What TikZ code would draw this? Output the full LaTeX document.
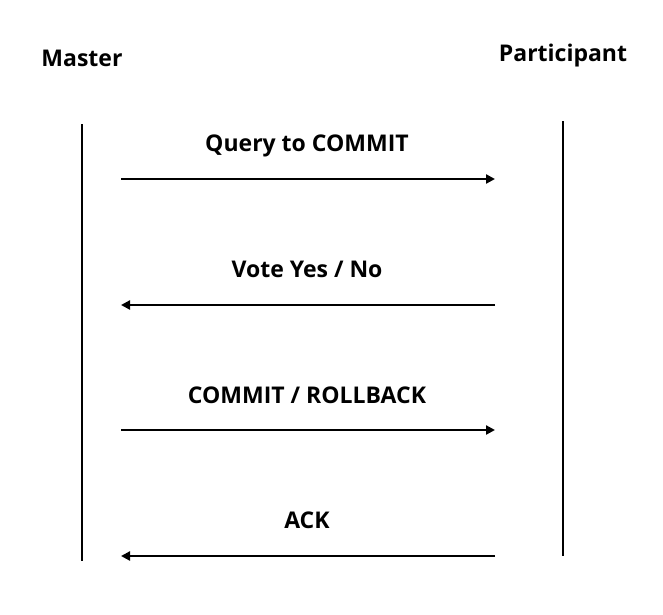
\documentclass[tikz,border=0pt]{standalone}
\usepackage{fontspec}
\setmainfont{Open Sans}
\usetikzlibrary{arrows.meta}
\begin{document}
\begin{tikzpicture}[x=1pt,y=-1pt,
  life/.style={line width=2.6pt},
  msg/.style={line width=2.6pt,-{Triangle[length=9pt,width=9pt]}},
  lbl/.style={font=\bfseries\fontsize{23}{26}\selectfont,inner sep=0pt,anchor=base},
  actor/.style={font=\bfseries\fontsize{23}{26}\selectfont,inner sep=0pt,anchor=base}]
\useasboundingbox (0,0) rectangle (663,614);
\node[actor] (master) at (82,66) {Master};
\node[actor] (part) at (563,61) {Participant};
\coordinate (mt) at (82,124);
\coordinate (mb) at (82,561);
\coordinate (pt) at (563,121);
\coordinate (pb) at (563,556);
\draw[life] (mt) -- (mb);
\draw[life] (pt) -- (pb);
\coordinate (a1l) at (121,179); \coordinate (a1r) at (495,179);
\coordinate (a2l) at (121,305); \coordinate (a2r) at (495,305);
\coordinate (a3l) at (121,430); \coordinate (a3r) at (495,430);
\coordinate (a4l) at (121,556); \coordinate (a4r) at (495,556);
\draw[msg] (a1l) -- (a1r);
\draw[msg] (a2r) -- (a2l);
\draw[msg] (a3l) -- (a3r);
\draw[msg] (a4r) -- (a4l);
\node[lbl] (l1) at (307,151) {Query to COMMIT};
\node[lbl] (l2) at (307,277) {Vote Yes / No};
\node[lbl] (l3) at (307,403) {COMMIT / ROLLBACK};
\node[lbl] (l4) at (307,528) {ACK};
\end{tikzpicture}
\end{document}
